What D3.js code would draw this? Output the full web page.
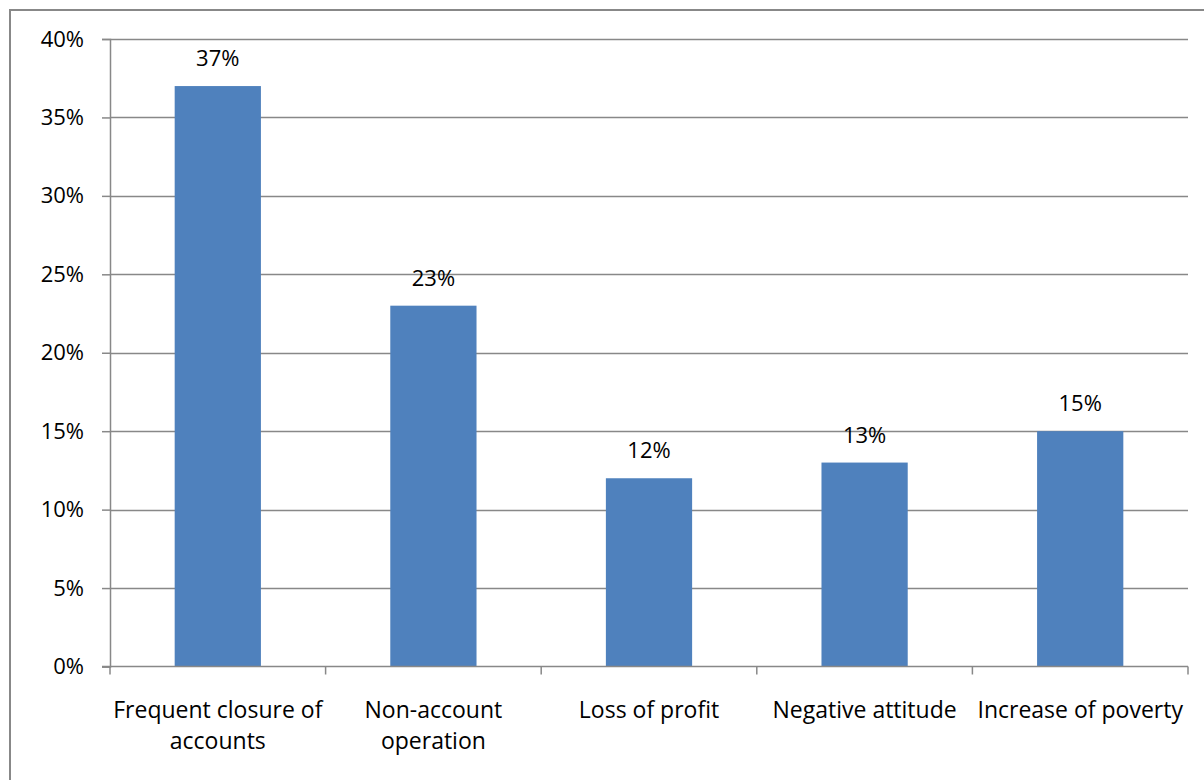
<!DOCTYPE html>
<html>
<head>
<meta charset="utf-8">
<script src="https://cdn.jsdelivr.net/npm/d3@7"></script>
<style>
  body { margin: 0; background: #fff; }
  svg { display: block; }
  text { font-family: "Open Sans", "Liberation Sans", sans-serif; fill: #000; }
</style>
</head>
<body>
<svg id="chart" width="1204" height="780"></svg>
<script>
// chart data
var categories = [
	["Frequent closure of", "accounts"],
	["Non-account", "operation"],
	["Loss of profit"],
	["Negative attitude"],
	["Increase of poverty"]
];
var values = [0.37, 0.23, 0.12, 0.13, 0.15];
var yTicks = [0, 0.05, 0.10, 0.15, 0.20, 0.25, 0.30, 0.35, 0.40];

var svg = d3.select("#chart");
var grey = "#888888";
var fontSize = "22px";

// outer frame (left + top only are visible in the shot)
svg.append("path")
	.attr("d", "M10,790V10H1210")
	.attr("fill", "none")
	.attr("stroke", grey)
	.attr("stroke-width", 2);

var plotLeft = 110, plotRight = 1188, plotTop = 39, plotBottom = 666.5;

var x = d3.scaleBand()
	.domain(d3.range(categories.length))
	.range([plotLeft, plotRight])
	.paddingInner(0.6)
	.paddingOuter(0.3);

var y = d3.scaleLinear().domain([0, 0.4]).range([plotBottom, plotTop]);

// gridlines
svg.append("g")
	.selectAll("line")
	.data(yTicks.slice(1))
	.join("line")
	.attr("x1", plotLeft).attr("x2", plotRight)
	.attr("y1", function(d) { return Math.round(y(d)) + 0.5; })
	.attr("y2", function(d) { return Math.round(y(d)) + 0.5; })
	.attr("stroke", grey)
	.attr("stroke-width", 1.5);

// bars
svg.append("g")
	.selectAll("rect")
	.data(values)
	.join("rect")
	.attr("x", function(d, i) { return x(i); })
	.attr("y", function(d) { return y(d); })
	.attr("width", x.bandwidth())
	.attr("height", function(d) { return plotBottom - y(d); })
	.attr("fill", "#4F81BD");

// value labels
svg.append("g")
	.selectAll("text")
	.data(values)
	.join("text")
	.attr("x", function(d, i) { return x(i) + x.bandwidth() / 2; })
	.attr("y", function(d) { return y(d) - 20; })
	.attr("text-anchor", "middle")
	.style("font-size", fontSize)
	.text(function(d) { return Math.round(d * 100) + "%"; });

// y axis
var yAxis = svg.append("g")
	.attr("transform", "translate(" + plotLeft + ",0)")
	.call(d3.axisLeft(y).tickValues(yTicks).tickSize(8).tickPadding(18)
		.tickFormat(function(d) { return Math.round(d * 100) + "%"; }));
yAxis.select(".domain").attr("stroke", grey).attr("stroke-width", 1.5);
yAxis.selectAll(".tick line").attr("stroke", grey).attr("stroke-width", 1.5);
yAxis.selectAll(".tick text")
	.attr("fill", "#000")
	.style("font-size", fontSize)
	.style("font-family", "'Open Sans', 'Liberation Sans', sans-serif");

// x axis line + ticks at category boundaries
var step = (plotRight - plotLeft) / categories.length;
var xg = svg.append("g");
xg.append("line")
	.attr("x1", plotLeft - 8).attr("x2", plotRight)
	.attr("y1", plotBottom).attr("y2", plotBottom)
	.attr("stroke", grey).attr("stroke-width", 1.5);
xg.selectAll("line.tk")
	.data(d3.range(categories.length + 1))
	.join("line")
	.attr("class", "tk")
	.attr("x1", function(d) { return plotLeft + d * step; })
	.attr("x2", function(d) { return plotLeft + d * step; })
	.attr("y1", plotBottom).attr("y2", plotBottom + 8)
	.attr("stroke", grey).attr("stroke-width", 1.5);

// category labels
var lbl = svg.append("g")
	.selectAll("text")
	.data(categories)
	.join("text")
	.attr("x", function(d, i) { return x(i) + x.bandwidth() / 2; })
	.attr("y", 718)
	.attr("text-anchor", "middle")
	.style("font-size", "23px");
lbl.selectAll("tspan")
	.data(function(d) { return d; })
	.join("tspan")
	.attr("x", function() { return d3.select(this.parentNode).attr("x"); })
	.attr("dy", function(d, i) { return i ? 31 : 0; })
	.text(function(d) { return d; });
</script>
</body>
</html>
